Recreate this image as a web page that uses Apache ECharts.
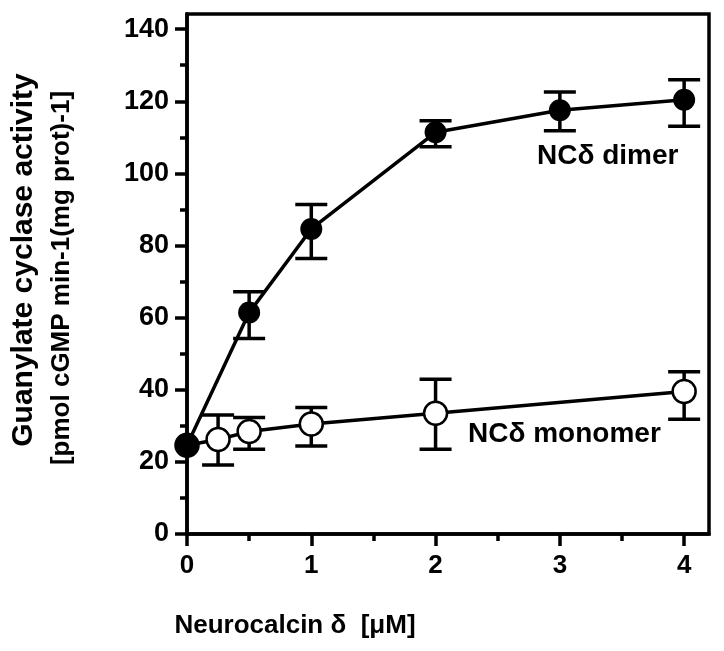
<!DOCTYPE html>
<html>
<head>
<meta charset="utf-8">
<script src="https://cdn.jsdelivr.net/npm/echarts@6/dist/echarts.min.js"></script>
<style>html,body{margin:0;padding:0;background:#fff}#c{width:724px;height:651px}</style>
</head>
<body>
<div id="c"></div>
<script>
// Data
var dimerX = [0, 0.5, 1, 2, 3, 4];
var dimerY = [24.6, 61.4, 84.6, 111.4, 117.5, 120.4];
var dimerLow = [null, 54.2, 76.4, 107.4, 111.8, 113.1];
var dimerHigh = [null, 67.2, 91.4, 114.6, 122.6, 126.0];

var monoX = [0, 0.25, 0.5, 1, 2, 4];
var monoY = [24.6, 26.2, 28.4, 30.5, 33.5, 39.5];
var monoLow = [null, 19.1, 23.5, 24.4, 23.5, 31.8];
var monoHigh = [null, 33.0, 32.3, 35.1, 42.9, 45.0];

var xTicks = [0, 1, 2, 3, 4];
var xMinorTicks = [0.5, 1.5, 2.5, 3.5];
var yTicks = [0, 20, 40, 60, 80, 100, 120, 140];
var yMinorTicks = [10, 30, 50, 70, 90, 110, 130];

function pairs(xs, ys) { return xs.map(function (x, i) { return [x, ys[i]]; }); }
function errData(xs, lo, hi) {
  var out = [];
  xs.forEach(function (x, i) { if (lo[i] != null) out.push([x, lo[i], hi[i]]); });
  return out;
}
function errSeries(data) {
  return {
    type: 'custom',
    data: data,
    z: 1,
    silent: true,
    renderItem: function (params, api) {
      var x = api.value(0);
      var p1 = api.coord([x, api.value(1)]);
      var p2 = api.coord([x, api.value(2)]);
      var hw = 16;
      var st = { stroke: '#000', lineWidth: 3.5 };
      return {
        type: 'group',
        children: [
          { type: 'line', shape: { x1: p1[0], y1: p1[1], x2: p2[0], y2: p2[1] }, style: st },
          { type: 'line', shape: { x1: p1[0] - hw, y1: p1[1], x2: p1[0] + hw, y2: p1[1] }, style: st },
          { type: 'line', shape: { x1: p2[0] - hw, y1: p2[1], x2: p2[0] + hw, y2: p2[1] }, style: st }
        ]
      };
    }
  };
}

var font = 'Liberation Sans, Arial, sans-serif';
var XMAX = 4.2, YMAX = 144.2;
function axisBase(extra) {
  var base = {
    type: 'value', min: 0,
    splitLine: { show: false },
    minorTick: { show: false }
  };
  for (var k in extra) base[k] = extra[k];
  return base;
}
var chart = echarts.init(document.getElementById('c'), null, { renderer: 'canvas' });
chart.setOption({
  animation: false,
  backgroundColor: '#fff',
  grid: { left: 187, right: 15, top: 14, bottom: 117, show: true, borderColor: '#000', borderWidth: 3.5, backgroundColor: 'transparent' },
  xAxis: [
    axisBase({
      max: XMAX, position: 'bottom',
      axisLine: { show: true, onZero: false, lineStyle: { color: '#000', width: 3.5 } },
      axisTick: { show: true, length: 12, customValues: xTicks, lineStyle: { color: '#000', width: 3.5 } },
      axisLabel: { color: '#000', fontFamily: font, fontWeight: 'bold', fontSize: 26, margin: 19, customValues: xTicks }
    }),
    axisBase({
      max: XMAX, position: 'bottom',
      axisLine: { show: false, onZero: false },
      axisTick: { show: true, length: 7, customValues: xMinorTicks, lineStyle: { color: '#000', width: 3.5 } },
      axisLabel: { show: false }
    })
  ],
  yAxis: [
    axisBase({
      max: YMAX, position: 'left',
      axisLine: { show: true, onZero: false, lineStyle: { color: '#000', width: 3.5 } },
      axisTick: { show: true, length: 12, customValues: yTicks, lineStyle: { color: '#000', width: 3.5 } },
      axisLabel: { color: '#000', fontFamily: font, fontWeight: 'bold', fontSize: 27, margin: 18, customValues: yTicks }
    }),
    axisBase({
      max: YMAX, position: 'left',
      axisLine: { show: false, onZero: false },
      axisTick: { show: true, length: 7, customValues: yMinorTicks, lineStyle: { color: '#000', width: 3.5 } },
      axisLabel: { show: false }
    })
  ],
  graphic: [
    { type: 'text', x: 295, y: 626, style: { text: 'Neurocalcin \u03b4  [\u03bcM]', font: 'bold 26px ' + font, fill: '#000', align: 'center', verticalAlign: 'middle' } },
    { type: 'text', x: 24, y: 260, rotation: Math.PI / 2, style: { text: 'Guanylate cyclase activity', font: 'bold 30px ' + font, fill: '#000', align: 'center', verticalAlign: 'middle' } },
    { type: 'text', x: 62, y: 278, rotation: Math.PI / 2, style: { text: '[pmol cGMP min-1(mg prot)-1]', font: 'bold 26px ' + font, fill: '#000', align: 'center', verticalAlign: 'middle' } },
    { type: 'text', x: 537, y: 156, style: { text: 'NC\u03b4 dimer', font: 'bold 28px ' + font, fill: '#000', align: 'left', verticalAlign: 'middle' } },
    { type: 'text', x: 468, y: 434, style: { text: 'NC\u03b4 monomer', font: 'bold 28px ' + font, fill: '#000', align: 'left', verticalAlign: 'middle' } }
  ],
  series: [
    errSeries(errData(monoX, monoLow, monoHigh)),
    errSeries(errData(dimerX, dimerLow, dimerHigh)),
    {
      type: 'line', data: pairs(monoX, monoY), z: 3,
      symbol: 'circle', symbolSize: 23,
      lineStyle: { color: '#000', width: 3.5 },
      itemStyle: { color: '#fff', borderColor: '#000', borderWidth: 2.5 }
    },
    {
      type: 'line', data: pairs(dimerX, dimerY), z: 4,
      symbol: 'circle', symbolSize: 22,
      lineStyle: { color: '#000', width: 3.5 },
      itemStyle: { color: '#000', borderColor: '#000', borderWidth: 0 }
    }
  ]
});
</script>
</body>
</html>
